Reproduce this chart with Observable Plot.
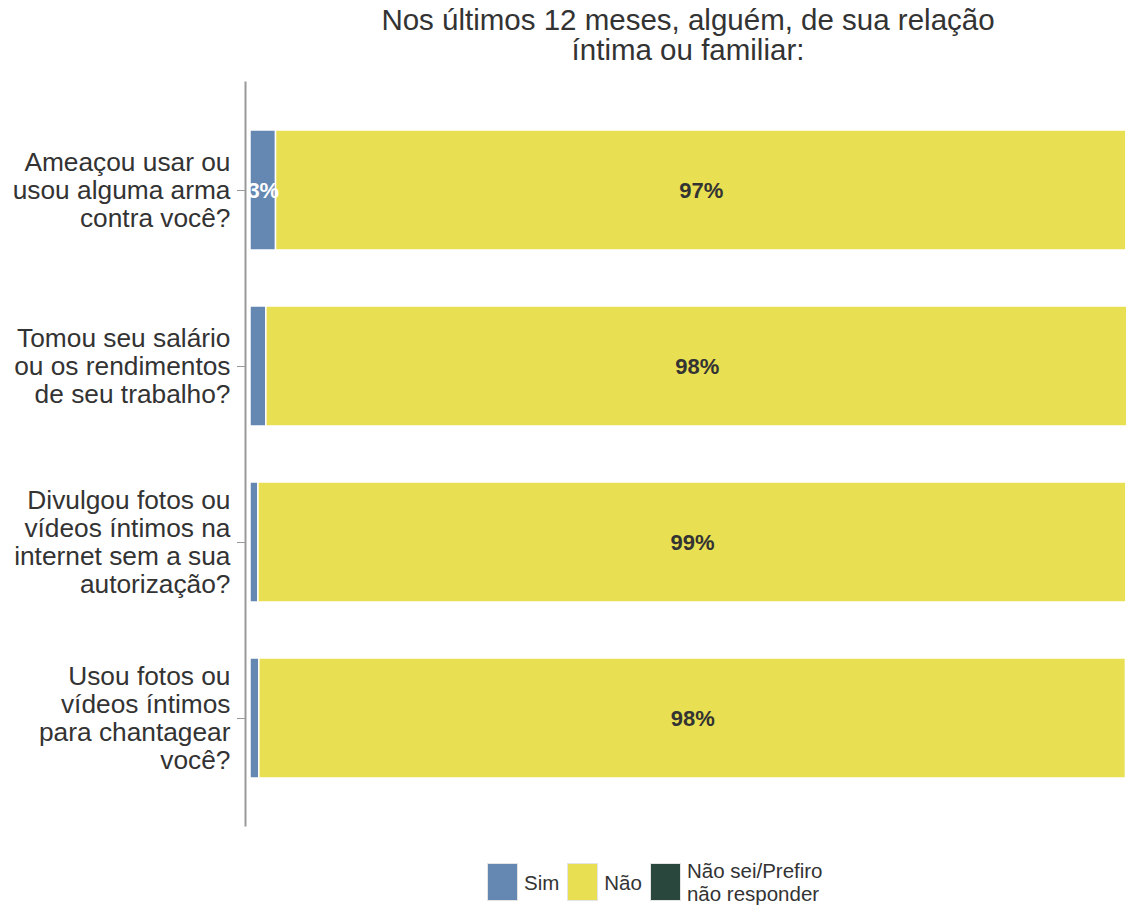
<!DOCTYPE html>
<html>
<head>
<meta charset="utf-8">
<script src="https://cdn.jsdelivr.net/npm/d3@7"></script>
<script src="https://cdn.jsdelivr.net/npm/@observablehq/plot@0.6"></script>
<style>
  html, body { margin: 0; padding: 0; background: #fff; overflow: hidden; }
  body { width: 1126px; height: 906px; font-family: "Liberation Sans", Arial, sans-serif; color: #333; }
  #title { position: absolute; left: 250px; width: 876px; top: 5px; text-align: center; font-size: 29.5px; line-height: 30px; color: #333; }
  #chart { position: absolute; left: 0; top: 70px; }
  #legend { position: absolute; top: 859px; left: 487px; height: 46px; display: flex; align-items: center; font-size: 20.5px; color: #333; }
  .sw { width: 31px; height: 38px; border: 1px solid #e4e4e4; box-sizing: border-box; margin-right: 6px; }
  .lab { margin-right: 8px; line-height: 23px; }
</style>
</head>
<body>
<div id="title">Nos últimos 12 meses, alguém, de sua relação<br>íntima ou familiar:</div>
<div id="chart"></div>
<div id="legend"></div>
<script>
const questions = [
  "Ameaçou usar ou\nusou alguma arma\ncontra você?",
  "Tomou seu salário\nou os rendimentos\nde seu trabalho?",
  "Divulgou fotos ou\nvídeos íntimos na\ninternet sem a sua\nautorização?",
  "Usou fotos ou\nvídeos íntimos\npara chantagear\nvocê?"
];
const responses = ["Sim", "Não", "Não sei/Prefiro não responder"];
const legendLabels = ["Sim", "Não", "Não sei/Prefiro<br>não responder"];
const colors = ["#6588b3", "#e9df52", "#29473c"];
const sim    = [2.9, 1.8, 0.9, 1.0];
const nao    = [96.6, 97.9, 98.6, 98.45];
const naoSei = [0.5, 0.3, 0.5, 0.55];

const series = [sim, nao, naoSei];
const data = [];
questions.forEach((q, i) => {
  let x0 = 0;
  series.forEach((s, k) => {
    data.push({q, r: responses[k], v: s[i], x1: x0, x2: x0 + s[i], xm: x0 + s[i] / 2});
    x0 += s[i];
  });
});

const chart = Plot.plot({
  width: 1126,
  height: 780,
  marginLeft: 245,
  marginRight: 0,
  marginTop: 12,
  marginBottom: 25,
  style: {fontFamily: "'Liberation Sans', Arial, sans-serif", background: "white"},
  x: {domain: [0, 99.5], axis: null, insetLeft: 5},
  y: {domain: questions, paddingInner: 0.32, paddingOuter: 0.26, label: null},
  color: {domain: responses, range: colors},
  marks: [
    Plot.barX(data, {y: "q", x1: "x1", x2: "x2", fill: "r", stroke: "white", strokeWidth: 1.5, clip: true}),
    Plot.text(data.filter(d => d.r === "Não"), {y: "q", x: "xm", text: d => Math.round(d.v) + "%", fontSize: 22, fontWeight: "bold", fill: "#333"}),
    Plot.text(data.filter(d => d.r === "Sim" && d.v >= 2.5), {y: "q", x: "xm", text: d => Math.round(d.v) + "%", fontSize: 22, fontWeight: "bold", fill: "white"}),
    Plot.axisY({anchor: "left", tickSize: 8, tickPadding: 7, fontSize: 26.3, lineHeight: 1.065, stroke: "#999", color: "#333", label: null}),
    Plot.frame({anchor: "left", stroke: "#999", strokeWidth: 2})
  ]
});
document.getElementById("chart").appendChild(chart);
chart.querySelectorAll("g[aria-label='y-axis tick label'] text").forEach(t => t.setAttribute("fill", "#333"));

const legend = document.getElementById("legend");
responses.forEach((r, k) => {
  const sw = document.createElement("div");
  sw.className = "sw";
  sw.style.background = colors[k];
  const lab = document.createElement("div");
  lab.className = "lab";
  lab.innerHTML = legendLabels[k];
  legend.appendChild(sw);
  legend.appendChild(lab);
});
</script>
</body>
</html>
